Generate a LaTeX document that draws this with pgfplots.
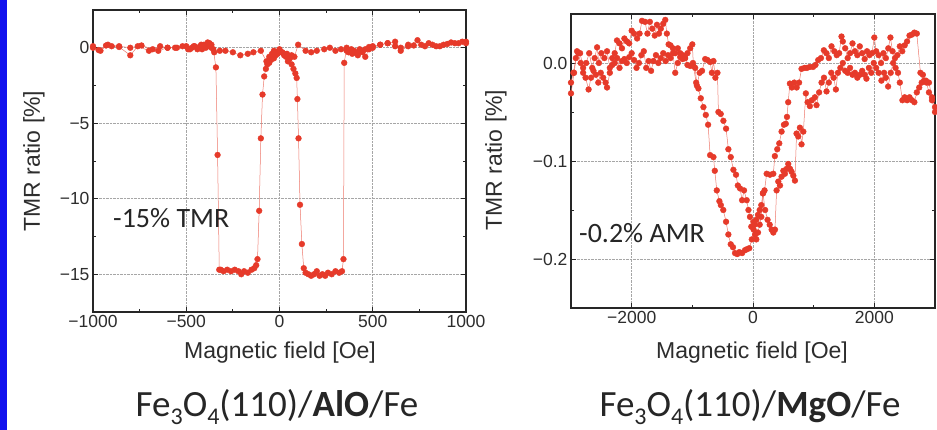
\documentclass[border=0pt]{standalone}
\usepackage{fontspec}
\setmainfont{Liberation Sans}
\newfontfamily\calib{Carlito}
\usepackage{pgfplots}
\pgfplotsset{compat=1.18}
\definecolor{mk}{RGB}{230,58,42}
\definecolor{ln}{RGB}{238,120,108}
\definecolor{stripe}{RGB}{18,18,238}
\definecolor{txt}{RGB}{45,45,45}
\newcommand{\sub}[1]{\raisebox{-0.22em}{\fontsize{24}{24}\selectfont #1}}
\pgfplotsset{
  panel/.style={
    scale only axis, anchor=south west,
    tick align=inside, tick pos=both,
    major tick length=5pt, minor tick length=3pt,
    grid=major, grid style={densely dotted, black!35, line width=0.6pt},
    axis line style={line width=1.1pt, black!85},
    every tick/.style={black!85, line width=0.8pt},
    tick label style={font=\fontsize{17.5}{20}\selectfont, text=txt},
    /pgf/number format/assume math mode=true,
  },
  sw/.style={color=ln, line width=0.5pt, mark=*, mark size=2.9pt,
    mark options={draw=mk, fill=mk, line width=0.4pt}},
}
\begin{document}
\begin{tikzpicture}[x=1pt,y=1pt]
\useasboundingbox (0pt,0pt) rectangle (937pt,430pt);
\fill[white] (0pt,0pt) rectangle (937pt,430pt);
\fill[stripe] (0pt,0pt) rectangle (7pt,430pt);
% ---------------- left panel -----------------
\begin{axis}[panel, at={(93pt,118pt)}, width=373pt, height=302pt,
  xmin=-1000, xmax=1000, ymin=-17.5, ymax=2.5,
  xtick={-1000,-500,0,500,1000}, xticklabels={−1000,−500,0,500,1000},
  ytick={-15,-10,-5,0}, yticklabels={−15,−10,−5,0},
  minor x tick num=1, minor y tick num=1]
\addplot[sw] coordinates {
(1000,0.4) (960,0.3) (920,0.35) (880,0.2) (840,0.1) (800,0.3) (760,0.2) (720,0.15)
(690,0.2) (650,0.0) (620,0.1) (580,0.3) (540,0.2) (500,0.1) (480,0.05) (460,-0.1)
(445,-0.3) (430,-0.1) (415,-0.35) (400,-0.2) (385,-0.1) (370,-0.3) (360,-0.2)
(330,-0.1) (300,-0.2) (270,0.0) (240,-0.1) (200,-0.2) (170,-0.3) (140,-0.2)
(100,0.2) (80,-0.6) (65,-0.5) (55,-0.7) (40,-0.4) (25,-0.5) (10,-0.3) (0,-0.2)
(-10,-0.4) (-20,-0.5) (-30,-0.7) (-45,-0.8) (-55,-1.0) (-65,-1.1) (-73,-1.4)
(-82,-1.9) (-91,-3.1) (-100,-6.0) (-109,-10.8) (-118,-14.0) (-125,-14.4)
(-135,-14.6) (-150,-14.7) (-170,-14.9) (-190,-14.8) (-205,-15.0) (-220,-14.8)
(-240,-14.7) (-260,-14.8) (-280,-14.7) (-300,-14.8) (-315,-14.7) (-323,-14.7)
(-332,-7.1) (-341,-1.3) (-355,-0.1) (-365,0.2) (-375,0.3) (-385,0.1) (-395,0.0)
(-405,0.2) (-415,-0.1) (-425,0.1) (-440,-0.1) (-455,0.1) (-470,0.0) (-490,-0.1)
(-520,0.1) (-560,0.0) (-600,0.0) (-640,0.1) (-680,-0.1) (-740,0.15) (-800,0.0)
(-860,0.1) (-920,0.2) (-960,-0.2) (-1000,0.0)
};
\addplot[sw] coordinates {
(-1000,0.1) (-970,-0.15) (-930,0.15) (-900,0.1) (-860,0.05) (-800,-0.5) (-760,0.1)
(-700,-0.2) (-650,-0.2) (-600,0.0) (-550,0.0) (-500,0.1) (-480,-0.1) (-460,0.1)
(-440,0.0) (-420,0.2) (-400,0.1) (-385,0.35) (-375,0.2) (-365,0.0) (-350,-0.3)
(-320,-0.2) (-290,-0.2) (-250,-0.3) (-210,-0.5) (-170,-0.4) (-140,-0.3) (-100,-0.2)
(-70,-0.9) (-55,-0.6) (-40,-0.4) (-30,-0.2) (-15,-0.3) (0,-0.1) (15,-0.3) (25,-0.4)
(35,-0.6) (45,-0.9) (55,-0.7) (65,-1.1) (75,-1.4) (85,-1.7) (92,-2.0) (96,-3.4)
(102,-6.0) (110,-10.4) (120,-13.0) (130,-14.6) (140,-14.9) (155,-15.0) (170,-15.1)
(185,-15.0) (200,-14.8) (215,-15.1) (230,-15.0) (245,-15.1) (260,-14.9) (280,-15.0)
(300,-14.8) (320,-14.9) (335,-14.8) (343,-14.0) (347,-1.0) (360,0.0) (375,-0.2)
(390,-0.4) (405,-0.3) (420,-0.5) (440,-0.2) (460,-0.6) (480,-0.1) (500,0.0)
(540,0.2) (580,0.3) (620,0.4) (650,-0.2) (690,0.1) (740,0.5) (780,0.1) (820,0.2)
(860,0.1) (900,0.25) (940,0.3) (980,0.4) (1000,0.3)
};
\end{axis}
% ---------------- right panel -----------------
\begin{axis}[panel, at={(571pt,122pt)}, width=364pt, height=294pt,
  xmin=-3000, xmax=3000, ymin=-0.25, ymax=0.05,
  xtick={-2000,0,2000}, xticklabels={−2000,0,2000},
  ytick={-0.2,-0.1,0}, yticklabels={−0.2,−0.1,0.0},
  minor x tick num=1, minor y tick num=1]
\addplot[sw] coordinates {
(3000,-0.045) (2950,-0.035) (2900,-0.020) (2850,-0.018) (2800,-0.012) (2760,-0.010)
(2700,0.030) (2660,0.031) (2620,0.029) (2580,0.028) (2540,0.022) (2500,0.018)
(2460,0.012) (2420,0.017) (2380,0.008) (2340,0.005) (2300,0.012) (2265,0.026)
(2230,0.015) (2190,0.005) (2150,0.010) (2110,0.000) (2070,0.008) (2030,0.012)
(2000,0.026) (1960,0.010) (1920,0.008) (1880,0.012) (1840,0.004) (1800,0.010)
(1760,0.017) (1720,0.008) (1680,0.012) (1640,0.020) (1600,0.010) (1560,0.005)
(1520,0.015) (1480,0.022) (1459,0.027) (1420,0.010) (1380,0.008) (1340,0.012)
(1294,0.017) (1250,0.005) (1210,0.010) (1168,0.013) (1120,0.005) (1075,0.003)
(1030,-0.002) (990,-0.004) (937,-0.004) (890,-0.005) (850,-0.005) (800,-0.006)
(760,-0.020) (720,-0.025) (680,-0.020) (640,-0.025) (608,-0.021) (580,-0.040)
(560,-0.055) (540,-0.062) (510,-0.063) (471,-0.070) (433,-0.082) (400,-0.088)
(360,-0.095) (335,-0.113) (280,-0.114) (225,-0.113) (190,-0.130) (164,-0.133)
(137,-0.145) (110,-0.150) (82,-0.155) (55,-0.160) (25,-0.165) (10,-0.170)
(-20,-0.180) (-61,-0.189) (-100,-0.190) (-132,-0.191) (-180,-0.194) (-225,-0.193)
(-260,-0.195) (-296,-0.194) (-330,-0.188) (-367,-0.185) (-406,-0.175) (-444,-0.162)
(-490,-0.150) (-530,-0.145) (-554,-0.141) (-597,-0.130) (-630,-0.110) (-652,-0.096)
(-707,-0.094) (-740,-0.063) (-778,-0.053) (-817,-0.045) (-861,-0.036) (-900,-0.026)
(-937,-0.020) (-982,-0.003) (-1000,0.019) (-1035,0.015) (-1080,0.010) (-1120,0.005)
(-1160,0.008) (-1200,0.010) (-1240,0.015) (-1282,0.010) (-1320,0.015) (-1360,0.018)
(-1391,0.019) (-1420,0.030) (-1446,0.044) (-1480,0.040) (-1520,0.035) (-1550,0.030)
(-1583,0.039) (-1620,0.028) (-1660,0.035) (-1700,0.042) (-1740,0.030) (-1780,0.042)
(-1830,0.043) (-1870,0.030) (-1910,0.025) (-1960,0.030) (-2000,0.033) (-2040,0.020)
(-2080,0.022) (-2120,0.025) (-2160,0.015) (-2200,0.020) (-2242,0.023) (-2280,0.010)
(-2320,0.005) (-2360,-0.005) (-2406,0.012) (-2450,0.005) (-2500,0.010) (-2540,0.000)
(-2570,0.016) (-2610,0.005) (-2650,-0.005) (-2700,0.010) (-2750,0.000) (-2800,-0.005)
(-2850,0.010) (-2900,0.012) (-2950,-0.010) (-3000,-0.031)
};
\addplot[sw] coordinates {
(-3000,-0.020) (-2960,-0.010) (-2920,0.005) (-2880,0.010) (-2840,0.000) (-2800,-0.010)
(-2760,-0.015) (-2710,-0.027) (-2670,-0.015) (-2630,-0.008) (-2590,-0.012) (-2550,-0.020)
(-2510,-0.010) (-2470,-0.015) (-2430,-0.020) (-2406,-0.025) (-2360,-0.010) (-2320,-0.002)
(-2280,0.000) (-2240,0.005) (-2200,-0.005) (-2160,0.002) (-2120,0.004) (-2080,0.000)
(-2040,0.006) (-2000,0.010) (-1960,0.003) (-1920,-0.005) (-1880,0.000) (-1840,0.008)
(-1800,0.012) (-1760,-0.005) (-1720,0.002) (-1680,-0.008) (-1640,0.002) (-1600,0.008)
(-1560,0.000) (-1520,0.005) (-1480,0.010) (-1440,0.002) (-1400,0.008) (-1360,0.005)
(-1320,0.010) (-1282,-0.010) (-1240,0.000) (-1200,0.006) (-1160,0.004) (-1120,0.005)
(-1080,-0.002) (-1035,-0.003) (-990,0.000) (-953,-0.005) (-925,-0.023) (-880,-0.010)
(-840,-0.008) (-788,0.004) (-750,0.003) (-706,0.001) (-678,-0.010) (-652,0.002)
(-620,-0.015) (-586,-0.010) (-570,-0.050) (-532,-0.052) (-488,-0.059) (-444,-0.067)
(-406,-0.088) (-367,-0.096) (-323,-0.109) (-280,-0.114) (-250,-0.125) (-214,-0.128)
(-180,-0.140) (-148,-0.130) (-104,-0.140) (-75,-0.150) (-50,-0.157) (-28,-0.167)
(10,-0.162) (35,-0.175) (55,-0.180) (82,-0.173) (110,-0.165) (137,-0.157) (164,-0.133)
(200,-0.150) (240,-0.160) (275,-0.165) (307,-0.170) (335,-0.173) (362,-0.170)
(389,-0.130) (417,-0.121) (445,-0.125) (471,-0.116) (500,-0.110) (526,-0.113)
(555,-0.108) (581,-0.103) (610,-0.108) (636,-0.111) (665,-0.115) (691,-0.120)
(718,-0.072) (745,-0.075) (773,-0.066) (800,-0.083) (830,-0.070) (871,-0.031)
(900,-0.040) (937,-0.044) (970,-0.038) (1020,-0.035) (1047,-0.043) (1090,-0.030)
(1130,-0.020) (1170,-0.015) (1212,-0.029) (1250,-0.020) (1290,-0.010) (1330,-0.015)
(1366,-0.027) (1400,-0.010) (1440,-0.005) (1480,0.000) (1520,-0.008) (1560,-0.010)
(1600,-0.005) (1640,-0.012) (1680,-0.010) (1720,-0.015) (1760,-0.012) (1800,-0.008)
(1840,-0.012) (1870,-0.016) (1910,-0.005) (1950,-0.010) (1990,0.000) (2030,-0.005)
(2070,-0.010) (2117,-0.018) (2160,-0.010) (2190,-0.015) (2227,-0.024) (2270,-0.010)
(2310,0.000) (2350,-0.005) (2390,-0.010) (2420,-0.020) (2463,-0.038) (2500,-0.035)
(2540,-0.038) (2580,-0.035) (2620,-0.038) (2660,-0.040) (2700,-0.030) (2740,-0.025)
(2780,-0.020) (2820,-0.018) (2860,-0.020) (2900,-0.030) (2950,-0.038) (3000,-0.050)
};
\end{axis}
% ---------------- labels -----------------
\node[rotate=90, text=txt, font=\fontsize{23}{26}\selectfont] at (34pt,269pt) {TMR ratio [\%]};
\node[rotate=90, text=txt, font=\fontsize{23}{26}\selectfont] at (496pt,270pt) {TMR ratio [\%]};
\node[text=txt, font=\fontsize{23}{26}\selectfont] at (280pt,77pt) {Magnetic field [Oe]};
\node[text=txt, font=\fontsize{23}{26}\selectfont] at (752pt,77pt) {Magnetic field [Oe]};
\node[anchor=west, inner sep=0pt, text=black!85, font=\calib\fontsize{28}{30}\selectfont] at (113pt,212pt) {-15\% TMR};
\node[anchor=west, inner sep=0pt, text=black!85, font=\calib\fontsize{28}{30}\selectfont] at (579pt,197pt) {-0.2\% AMR};
\node[text=black!85, font=\calib\fontsize{37}{40}\selectfont, inner sep=0pt] at (277pt,23pt) {Fe\sub{3}O\sub{4}(110)/\textbf{AlO}/Fe};
\node[text=black!85, font=\calib\fontsize{37}{40}\selectfont, inner sep=0pt] at (750pt,23pt) {Fe\sub{3}O\sub{4}(110)/\textbf{MgO}/Fe};
\end{tikzpicture}
\end{document}
